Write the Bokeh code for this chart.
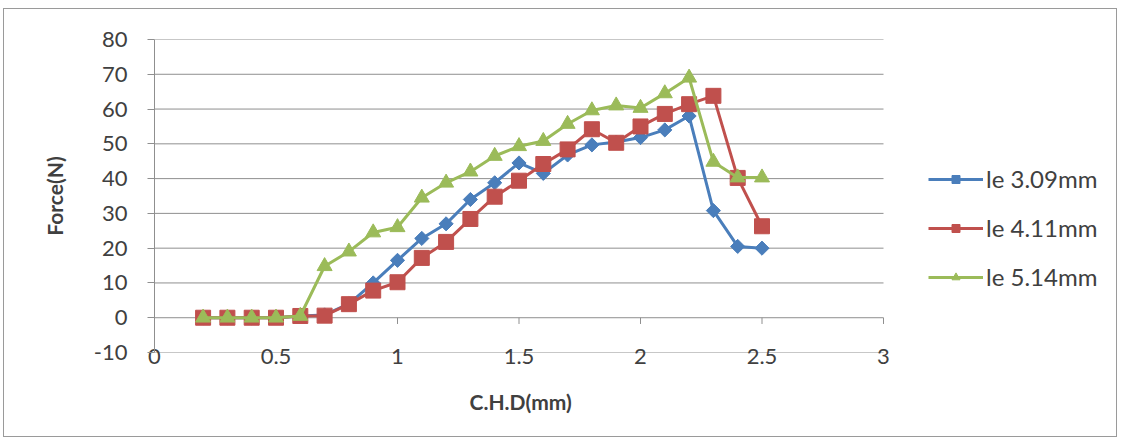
import math
from bokeh.plotting import figure
from bokeh.models import Range1d, FixedTicker, Legend, LegendItem, Title, NumeralTickFormatter
from bokeh.embed import file_html
from bokeh.resources import INLINE

# ---- data ----
chd = [0.2, 0.3, 0.4, 0.5, 0.6, 0.7, 0.8, 0.9, 1.0, 1.1, 1.2, 1.3,
       1.4, 1.5, 1.6, 1.7, 1.8, 1.9, 2.0, 2.1, 2.2, 2.3, 2.4, 2.5]
le_309 = [0, 0, 0, 0, 0.5, 0.8, 4.0, 10.0, 16.5, 22.8, 27.0, 34.0,
          38.8, 44.5, 41.5, 46.8, 49.7, 50.5, 51.8, 54.0, 58.0, 30.8, 20.5, 20.0]
le_411 = [0, 0, 0, 0, 0.5, 0.6, 3.9, 7.8, 10.2, 17.2, 21.8, 28.4,
          34.8, 39.4, 44.2, 48.4, 54.2, 50.3, 55.0, 58.6, 61.4, 63.8, 40.2, 26.3]
le_514 = [0, 0, 0, 0, 0.5, 14.8, 19.0, 24.5, 26.0, 34.5, 38.8, 42.0,
          46.5, 49.3, 50.8, 55.7, 59.6, 61.0, 60.3, 64.5, 69.0, 44.8, 40.3, 40.3]
series_names = ["le 3.09mm", "le 4.11mm", "le 5.14mm"]
x_ticks = [0, 0.5, 1, 1.5, 2, 2.5, 3]
y_ticks = [-10, 0, 10, 20, 30, 40, 50, 60, 70, 80]
x_title = "C.H.D(mm)"
y_title = "Force(N)"

FONT = "Lato"
TXT = "#404040"
GRID = "#8f8f8f"

W, H = 1114, 429
MBL, MBR, MBT, MBB = 150, 8, 30, 86
x_min, x_max = x_ticks[0], x_ticks[-1]
# the plotting area continues to the right to hold the legend
plot_px = 729  # pixels spanned by the x axis ticks 0..3
frame_px = W - MBL - MBR
x_end = x_max * frame_px / plot_px

p = figure(width=W, height=H, output_backend="svg", toolbar_location=None,
           x_range=Range1d(x_min, x_end), y_range=Range1d(y_ticks[0], y_ticks[-1]),
           min_border_left=MBL, min_border_right=MBR, min_border_top=MBT,
           min_border_bottom=MBB, background_fill_color="white",
           border_fill_color="white")
p.styles = {"border": "1px solid #9a9a9a", "margin-left": "3px", "margin-top": "8px"}
p.outline_line_color = None
p.grid.grid_line_color = None

# y axis
yax = p.yaxis[0]
yax.ticker = FixedTicker(ticks=y_ticks)
yax.formatter = NumeralTickFormatter(format="0")
yax.minor_tick_line_color = None
yax.major_tick_in = 0
yax.major_tick_out = 7
yax.major_tick_line_color = GRID
yax.axis_line_color = GRID
yax.major_label_text_font = FONT
yax.major_label_text_font_size = "22px"
yax.major_label_text_color = TXT
yax.major_label_standoff = 20
yax.axis_label = y_title
yax.axis_label_text_font = FONT
yax.axis_label_text_font_style = "bold"
yax.axis_label_text_font_size = "21px"
yax.axis_label_text_color = TXT
yax.axis_label_standoff = 24

# x axis (labels only at bottom; axis line drawn at y=0)
xax = p.xaxis[0]
xax.ticker = FixedTicker(ticks=x_ticks)
xax.formatter = NumeralTickFormatter(format="0.[0]")
xax.minor_tick_line_color = None
xax.major_tick_line_color = None
xax.major_tick_out = 0
xax.major_tick_in = 0
xax.axis_line_color = None
xax.major_label_text_font = FONT
xax.major_label_text_font_size = "22px"
xax.major_label_text_color = TXT
xax.major_label_standoff = -4

# x axis title, centred under the 0..3 span
p.add_layout(Title(text=x_title, align="left", offset=315, standoff=40,
                   text_font=FONT, text_font_style="bold", text_font_size="21px",
                   text_color=TXT), "below")

# horizontal gridlines over the x-axis span only
n = len(y_ticks)
p.segment(x0=[x_min] * n, y0=y_ticks, x1=[x_max] * n, y1=y_ticks,
          line_color=GRID, line_width=1)
# tick marks of the horizontal axis at y = 0
m = len(x_ticks)
p.segment(x0=x_ticks, y0=[0] * m, x1=x_ticks, y1=[-1.8] * m,
          line_color=GRID, line_width=1)

colors = ["#4a7ebb", "#c0504d", "#9bbb59"]
markers = ["square", "square", "triangle"]
sizes = [10, 15, 15]
angles = [math.pi / 4, 0, 0]
items = []
for vals, name, c, mk, s, a in zip([le_309, le_411, le_514], series_names,
                                    colors, markers, sizes, angles):
    ln = p.line(chd, vals, line_color=c, line_width=3)
    sc = p.scatter(chd, vals, marker=mk, size=s, angle=a, fill_color=c,
                   line_color=c, line_width=1)
    items.append(LegendItem(label=name, renderers=[ln, sc]))

legend = Legend(items=items, location=(774, 61), orientation="vertical",
                glyph_width=55, glyph_height=20, label_height=24, spacing=20,
                padding=5, margin=0, label_standoff=3, border_line_color=None,
                background_fill_alpha=0, label_text_font=FONT,
                label_text_font_size="24px", label_text_color=TXT)
p.add_layout(legend, "center")

open("out.html", "w").write(file_html(p, INLINE))
